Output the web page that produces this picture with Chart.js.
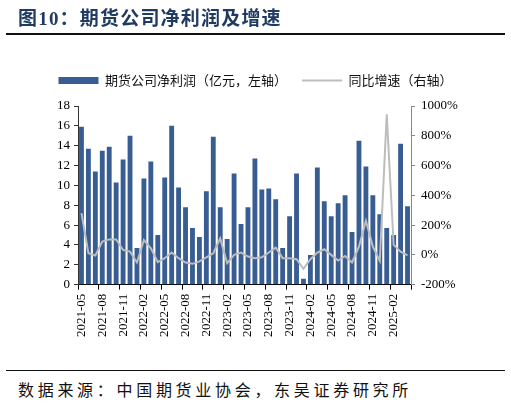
<!DOCTYPE html>
<html>
<head>
<meta charset="utf-8">
<script src="https://cdn.jsdelivr.net/npm/chart.js@4.4.1/dist/chart.umd.min.js"></script>
<style>
html,body{margin:0;padding:0;background:#fff;}
#wrap{position:relative;width:511px;height:403px;overflow:hidden;}
#title{position:absolute;left:18px;top:3px;font:bold 19px 'Liberation Serif','Noto Sans CJK SC';color:#1F3B63;letter-spacing:1.2px;white-space:nowrap;}
#rule1{position:absolute;left:6px;top:33px;width:499px;height:2px;background:#111;}
#rule2{position:absolute;left:6px;top:370px;width:499px;height:1px;background:#111;}
#foot{position:absolute;left:18px;top:377px;font:16px 'Noto Sans CJK SC';color:#111;letter-spacing:3.7px;white-space:nowrap;}
#c{position:absolute;left:0;top:0;}
</style>
</head>
<body>
<div id="wrap">
<canvas id="c" width="511" height="343"></canvas>
<div id="title">图10：期货公司净利润及增速</div>
<div id="rule1"></div>
<div id="rule2"></div>
<div id="foot">数据来源：中国期货业协会，东吴证券研究所</div>
</div>
<script>
const months = ["2021-05","2021-06","2021-07","2021-08","2021-09","2021-10","2021-11","2021-12",
"2022-01","2022-02","2022-03","2022-04","2022-05","2022-06","2022-07","2022-08","2022-09","2022-10","2022-11","2022-12",
"2023-01","2023-02","2023-03","2023-04","2023-05","2023-06","2023-07","2023-08","2023-09","2023-10","2023-11","2023-12",
"2024-01","2024-02","2024-03","2024-04","2024-05","2024-06","2024-07","2024-08","2024-09","2024-10","2024-11","2024-12",
"2025-01","2025-02","2025-03","2025-04"];
const netProfit = [15.9,13.7,11.4,13.5,13.9,10.3,12.6,15.0,3.7,10.7,12.4,5.0,10.8,16.0,9.8,7.8,5.7,4.8,9.4,14.9,
7.8,4.6,11.2,6.1,7.8,12.7,9.6,9.7,8.6,3.7,6.9,11.2,0.6,3.0,11.8,8.4,6.9,8.2,9.0,5.3,14.5,11.9,9.0,7.1,5.7,5.0,14.2,7.9];
const yoyGrowth = [280,11,-4,89,104,104,33,22,-51,100,44,-48,-22,16,-22,-51,-60,-44,-16,11,
111,-56,0,15,-11,-22,-16,16,49,-22,-22,-29,-93,-29,16,38,0,-38,-7,-51,56,229,56,-40,944,67,22,-3];
const leftTicks = [0,2,4,6,8,10,12,14,16,18];
const rightTicks = [-200,0,200,400,600,800,1000];
const seriesNames = ["期货公司净利润（亿元，左轴）","同比增速（右轴）"];

const serif = "'Liberation Serif','Times New Roman',serif";
const cjk = "'Noto Sans CJK SC','Liberation Serif'";

const legendTweak = {
  id:'legendTweak',
  beforeLayout(chart){
    const lg = chart.legend;
    if (lg && !lg._tweaked){
      const f = lg.fit;
      lg.fit = function(){ f.call(this); this.height = this.height + 9; };
      lg._tweaked = true;
    }
  }
};

new Chart(document.getElementById('c'), {
  data: {
    labels: months,
    datasets: [
      {type:'line', label: seriesNames[1], data: yoyGrowth, yAxisID:'y2', borderColor:'#BDBDBD', backgroundColor:'#BDBDBD',
       borderWidth:2, pointRadius:0, tension:0, order:0, pointStyle:'line'},
      {type:'bar', label: seriesNames[0], data: netProfit, yAxisID:'y', backgroundColor:'#385D93', borderWidth:0,
       categoryPercentage:1, barPercentage:0.7, order:1, pointStyle:'rect'}
    ]
  },
  plugins:[legendTweak],
  options: {
    responsive:false, animation:false,
    layout:{padding:{left:10,right:10,top:59,bottom:2}},
    plugins:{
      tooltip:{enabled:false},
      legend:{
        position:'top', reverse:true,
        labels:{usePointStyle:true, pointStyleWidth:40, boxHeight:7, padding:15, color:'#111',
          font:{family:cjk, size:13}}
      }
    },
    scales:{
      x:{
        offset:true,
        grid:{offset:true, drawOnChartArea:false, drawTicks:true, tickLength:5,
          color:(ctx)=> (ctx.index===undefined || ctx.index%3===0) ? '#000' : 'rgba(0,0,0,0)'},
        border:{display:true,color:'#000',width:1},
        ticks:{autoSkip:false, maxRotation:90, minRotation:90, padding:4, color:'#000',
          font:{family:serif,size:13},
          callback:(v,i)=> i%3===0 ? months[i] : ''}
      },
      y:{
        position:'left', min:0, max:18,
        afterBuildTicks:(s)=>{s.ticks = leftTicks.map(v=>({value:v}));},
        afterFit:(s)=>{s.width = 68;},
        grid:{drawOnChartArea:false, drawTicks:true, tickLength:4, color:'#333'},
        border:{display:true,color:'#333',width:1},
        ticks:{autoSkip:false, color:'#000', padding:4, font:{family:serif,size:13}}
      },
      y2:{
        position:'right', min:-200, max:1000,
        afterBuildTicks:(s)=>{s.ticks = rightTicks.map(v=>({value:v}));},
        afterFit:(s)=>{s.width = 90;},
        grid:{drawOnChartArea:false, drawTicks:true, tickLength:4, color:'#888'},
        border:{display:true,color:'#888',width:1},
        ticks:{autoSkip:false, color:'#000', padding:6, font:{family:serif,size:13}, callback:(v)=> v+'%'}
      }
    }
  }
});
</script>
</body>
</html>
